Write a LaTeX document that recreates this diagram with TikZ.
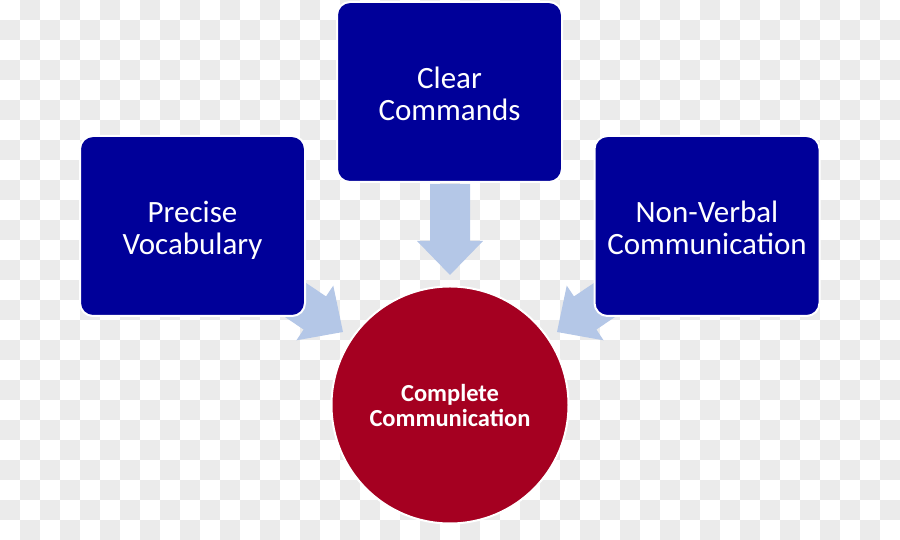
\documentclass[tikz,border=0pt]{standalone}
\usepackage{fontspec}
\setmainfont{Carlito}
\definecolor{boxblue}{HTML}{000099}
\definecolor{circlered}{HTML}{A50021}
\definecolor{arrowblue}{HTML}{B4C7E7}
\definecolor{checkgrey}{HTML}{EBEBEB}
\newcommand{\boxlines}[2]{\rule{0pt}{33pt}#1\\#2\rule[-8pt]{0pt}{8pt}}
\newcommand{\goallines}[2]{\rule{0pt}{24pt}#1\\#2\rule[-6pt]{0pt}{6pt}}
\tikzset{
	topic/.style={draw=white, line width=2pt, fill=boxblue, rounded corners=13pt,
		minimum width=225pt, minimum height=180pt, text=white, align=center,
		font=\fontsize{31}{31.5}\selectfont},
	goal/.style={circle, draw=white, line width=2pt, fill=circlered, minimum size=237pt,
		text=white, align=center, font=\bfseries\fontsize{24.5}{24.5}\selectfont},
	blockarrow/.pic={\fill[arrowblue] (0,0) -- (-34,33) -- (-34,20) -- (-91,20)
		-- (-91,-20) -- (-34,-20) -- (-34,-33) -- cycle;}
}
\begin{document}
\begin{tikzpicture}[x=1pt, y=1pt]
	\useasboundingbox (0,0) rectangle (900,540);
	% checker background
	\foreach \i in {0,...,44}
		\foreach \j in {0,...,26} {
			\pgfmathtruncatemacro\k{mod(\i+\j,2)}
			\ifnum\k=1 \fill[checkgrey] (20*\i,540-20*\j) rectangle ++(20,-20); \fi
		}
	% arrows sit under the boxes
	\coordinate (tipleft) at (343,208);
	\coordinate (tiptop) at (450,265);
	\coordinate (tipright) at (557,208);
	\pic[rotate=-34] at (tipleft) {blockarrow};
	\pic[rotate=-90] at (tiptop) {blockarrow};
	\pic[rotate=-146] at (tipright) {blockarrow};
	\node[topic] (vocab) at (192.5,314) {\boxlines{Precise}{Vocabulary}};
	\node[topic] (commands) at (449.5,448) {\boxlines{Clear}{Commands}};
	\node[topic] (nonverbal) at (707,314) {\boxlines{Non-Verbal}{Communication}};
	\node[goal] (complete) at (450,135) {\goallines{Complete}{Communication}};
\end{tikzpicture}
\end{document}
